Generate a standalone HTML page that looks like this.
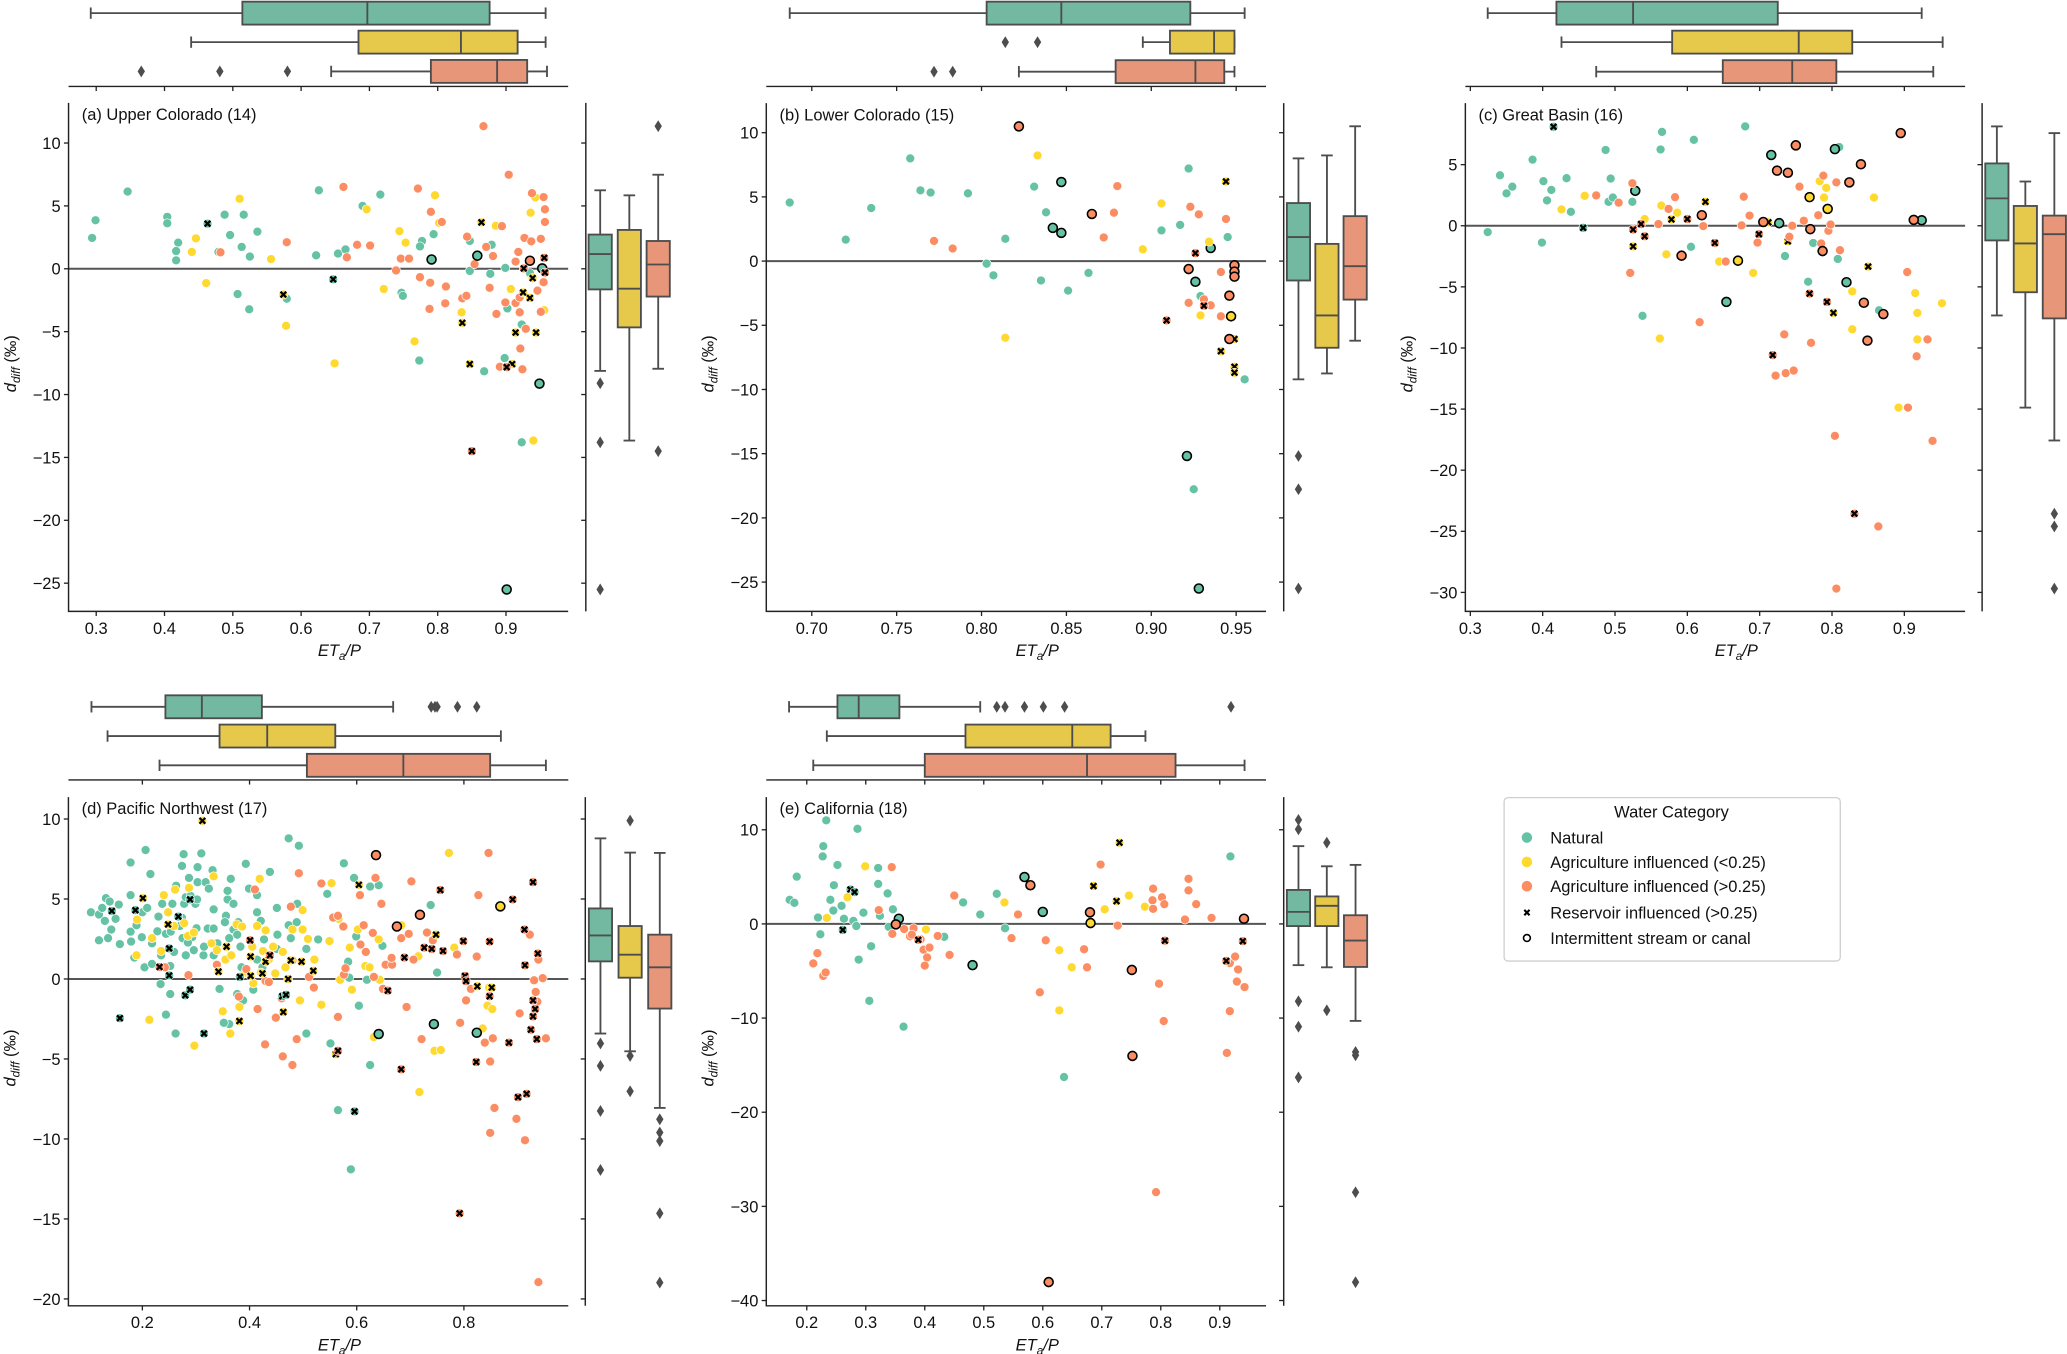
<!DOCTYPE html>
<html><head><meta charset="utf-8">
<style>
html,body{margin:0;padding:0;background:#fff;}
svg{display:block;font-family:"Liberation Sans","DejaVu Sans",sans-serif;}
</style></head>
<body>
<svg id="fig" xmlns="http://www.w3.org/2000/svg" width="2067" height="1354" viewBox="0 0 1568 1027">
<rect x="0" y="0" width="1568" height="1027" fill="#fff"/>
<g id="legend">
  <rect x="1141" y="605" width="255" height="124" rx="3" fill="#fff" stroke="#cfcfcf" stroke-width="1"/>
  <text x="1268" y="620" font-size="12.5" text-anchor="middle" fill="#111">Water Category</text>
  <g><circle cx="1158.3" cy="635.3" r="4" fill="#66c2a5"/><text x="1176" y="639.8" font-size="12.5" fill="#111">Natural</text></g>
  <g><circle cx="1158.3" cy="653.8" r="4" fill="#ffd92f"/><text x="1176" y="658.3" font-size="12.5" fill="#111">Agriculture influenced (&lt;0.25)</text></g>
  <g><circle cx="1158.3" cy="672.2" r="4" fill="#fc8d62"/><text x="1176" y="676.7" font-size="12.5" fill="#111">Agriculture influenced (&gt;0.25)</text></g>
  <g><path d="M1156.3,690.2 L1160.3,694.2 M1160.3,690.2 L1156.3,694.2" stroke="#000" stroke-width="1.6"/><text x="1176" y="696.7" font-size="12.5" fill="#111">Reservoir influenced (&gt;0.25)</text></g>
  <g><circle cx="1158.3" cy="711.5" r="2.6" fill="#fff" stroke="#000" stroke-width="1.2"/><text x="1176" y="716" font-size="12.5" fill="#111">Intermittent stream or canal</text></g>
</g>
</svg>
<script>
// point format: [ETa/P, d_diff, category(0 natural,1 ag<0.25,2 ag>0.25), marker(0 none,1 reservoir,2 intermittent)]
const pointsA = [
[0.294,2.45,0,0],[0.299,3.86,0,0],[0.346,6.14,0,0],[0.404,4.13,0,0],[0.404,3.62,0,0],[0.42,2.08,0,0],[0.417,1.41,0,0],[0.417,0.67,0,0],[0.479,1.34,0,0],[0.488,4.3,0,0],[0.496,2.68,0,0],[0.516,4.3,0,0],[0.513,1.74,0,0],[0.536,2.95,0,0],[0.525,0.97,0,0],[0.507,-2.01,0,0],[0.524,-3.22,0,0],[0.579,-2.38,0,0],[0.626,6.24,0,0],[0.622,1.07,0,0],[0.654,1.21,0,0],[0.665,1.54,0,0],[0.69,5.0,0,0],[0.716,5.9,0,0],[0.777,2.21,0,0],[0.774,1.78,0,0],[0.794,2.75,0,0],[0.747,-1.91,0,0],[0.749,-2.15,0,0],[0.773,-7.3,0,0],[0.847,2.21,0,0],[0.879,1.91,0,0],[0.847,-0.17,0,0],[0.877,-0.4,0,0],[0.868,-8.15,0,0],[0.899,0.07,0,0],[0.902,-3.15,0,0],[0.898,-7.1,0,0],[0.923,-4.43,0,0],[0.923,-13.8,0,0],[0.935,-0.34,0,0],
[0.446,2.42,1,0],[0.44,1.34,1,0],[0.461,-1.14,1,0],[0.51,5.57,1,0],[0.556,0.77,1,0],[0.578,-4.53,1,0],[0.649,-7.52,1,0],[0.696,4.73,1,0],[0.721,-1.61,1,0],[0.744,2.99,1,0],[0.753,2.08,1,0],[0.796,5.84,1,0],[0.802,3.66,1,0],[0.766,-5.77,1,0],[0.835,-3.46,1,0],[0.885,3.42,1,0],[0.907,-1.61,1,0],[0.936,4.46,1,0],[0.943,5.67,1,0],[0.956,-3.29,1,0],[0.94,-13.66,1,0],
[0.482,1.31,2,0],[0.579,2.11,2,0],[0.662,6.51,2,0],[0.667,0.91,2,0],[0.682,1.91,2,0],[0.701,1.85,2,0],[0.739,-0.13,2,0],[0.746,0.81,2,0],[0.758,0.81,2,0],[0.771,6.38,2,0],[0.774,-0.67,2,0],[0.79,4.53,2,0],[0.806,3.72,2,0],[0.789,-1.11,2,0],[0.788,-3.19,2,0],[0.812,-1.41,2,0],[0.811,-2.75,2,0],[0.843,2.55,2,0],[0.854,0.37,2,0],[0.871,1.74,2,0],[0.836,-2.35,2,0],[0.842,-2.15,2,0],[0.867,11.34,2,0],[0.894,3.39,2,0],[0.881,1.01,2,0],[0.876,-1.51,2,0],[0.886,-3.59,2,0],[0.904,7.48,2,0],[0.918,1.34,2,0],[0.927,2.45,2,0],[0.937,2.18,2,0],[0.938,6.01,2,0],[0.955,5.7,2,0],[0.957,4.73,2,0],[0.957,3.72,2,0],[0.951,2.38,2,0],[0.914,0.57,2,0],[0.899,-2.68,2,0],[0.914,-2.72,2,0],[0.92,-3.46,2,0],[0.92,-2.28,2,0],[0.946,-1.74,2,0],[0.955,-1.07,2,0],[0.951,-3.42,2,0],[0.929,-4.77,2,0],[0.921,-6.34,2,0],[0.924,-7.99,2,0],[0.891,-7.79,2,0],
[0.901,-25.5,0,2],[0.949,-9.13,0,2],[0.953,0.03,0,2],[0.791,0.74,0,2],[0.858,1.04,0,2],[0.935,0.64,2,2],
[0.463,3.59,0,1],[0.647,-0.84,0,1],[0.574,-2.05,1,1],[0.847,-7.58,1,1],[0.864,3.69,1,1],[0.914,-5.07,1,1],[0.944,-5.07,1,1],[0.925,-1.88,1,1],[0.935,-2.32,1,1],[0.939,-0.74,1,1],[0.909,-7.58,1,1],[0.836,-4.3,1,1],
[0.85,-14.5,2,1],[0.901,-7.82,2,1],[0.926,0.03,2,1],[0.956,0.87,2,1],[0.957,-0.3,2,1]
];
const pointsB = [
[0.687,4.56,0,0],[0.72,1.67,0,0],[0.735,4.13,0,0],[0.758,8.0,0,0],[0.764,5.51,0,0],[0.77,5.34,0,0],[0.792,5.28,0,0],[0.814,1.74,0,0],[0.803,-0.2,0,0],[0.807,-1.11,0,0],[0.831,5.8,0,0],[0.838,3.8,0,0],[0.835,-1.51,0,0],[0.851,-2.3,0,0],[0.863,-0.92,0,0],[0.906,2.39,0,0],[0.917,2.82,0,0],[0.922,7.21,0,0],[0.945,1.87,0,0],[0.929,-2.72,0,0],[0.955,-9.21,0,0],[0.925,-17.77,0,0],
[0.847,6.16,0,2],[0.842,2.59,0,2],[0.847,2.2,0,2],[0.935,1.02,0,2],[0.926,-1.61,0,2],[0.921,-15.18,0,2],[0.928,-25.5,0,2],
[0.833,8.23,1,0],[0.814,-5.97,1,0],[0.906,4.49,1,0],[0.895,0.92,1,0],[0.934,1.51,1,0],[0.929,-4.23,1,0],
[0.947,-4.3,1,2],[0.944,6.2,1,1],[0.941,-7.02,1,1],[0.949,-6.07,1,1],[0.949,-8.23,1,1],[0.949,-8.69,1,1],
[0.772,1.57,2,0],[0.783,0.98,2,0],[0.872,1.84,2,0],[0.878,3.77,2,0],[0.88,5.84,2,0],[0.923,4.23,2,0],[0.928,3.64,2,0],[0.944,3.28,2,0],[0.941,-0.85,2,0],[0.922,-3.25,2,0],[0.935,-3.44,2,0],[0.941,-4.3,2,0],[0.931,-2.98,2,0],
[0.822,10.49,2,2],[0.865,3.67,2,2],[0.922,-0.62,2,2],[0.946,-2.69,2,2],[0.946,-6.07,2,2],[0.949,-0.33,2,2],[0.949,-0.82,2,2],[0.949,-1.21,2,2],
[0.909,-4.62,2,1],[0.926,0.62,2,1],[0.931,-3.48,2,1]
];
const pointsC = [
[0.324,-0.52,0,0],[0.341,4.13,0,0],[0.35,2.65,0,0],[0.358,3.2,0,0],[0.386,5.41,0,0],[0.401,3.65,0,0],[0.412,2.93,0,0],[0.406,2.07,0,0],[0.399,-1.38,0,0],[0.433,3.89,0,0],[0.439,1.14,0,0],[0.487,6.2,0,0],[0.494,3.86,0,0],[0.491,1.96,0,0],[0.497,2.31,0,0],[0.524,1.96,0,0],[0.565,7.68,0,0],[0.563,6.24,0,0],[0.609,7.03,0,0],[0.68,8.13,0,0],[0.605,-1.72,0,0],[0.538,-7.37,0,0],[0.735,-2.48,0,0],[0.774,-1.41,0,0],[0.767,-4.58,0,0],[0.81,6.44,0,0],[0.808,-2.72,0,0],[0.865,-6.92,0,0],
[0.528,2.86,0,2],[0.727,0.21,0,2],[0.716,5.79,0,2],[0.804,6.27,0,2],[0.82,-4.62,0,2],[0.924,0.45,0,2],[0.654,-6.23,0,2],
[0.415,8.1,0,1],[0.456,-0.17,0,1],
[0.426,1.34,1,0],[0.458,2.45,1,0],[0.541,0.55,1,0],[0.564,1.65,1,0],[0.586,1.07,1,0],[0.571,-2.34,1,0],[0.562,-9.23,1,0],[0.644,-2.93,1,0],[0.691,-3.86,1,0],[0.783,3.65,1,0],[0.792,3.1,1,0],[0.789,2.31,1,0],[0.858,2.31,1,0],[0.828,-5.37,1,0],[0.828,-8.47,1,0],[0.915,-5.51,1,0],[0.918,-7.13,1,0],[0.918,-9.3,1,0],[0.952,-6.34,1,0],[0.892,-14.88,1,0],
[0.769,2.34,1,2],[0.67,-2.86,1,2],[0.794,1.38,1,2],
[0.525,-1.69,1,1],[0.578,0.52,1,1],[0.625,1.96,1,1],[0.712,0.28,1,1],[0.739,-1.27,1,1],[0.802,-7.13,1,1],[0.85,-3.34,1,1],
[0.474,2.48,2,0],[0.505,1.89,2,0],[0.524,3.48,2,0],[0.521,-3.86,2,0],[0.56,0.14,2,0],[0.574,1.38,2,0],[0.583,2.34,2,0],[0.622,-0.03,2,0],[0.653,-2.93,2,0],[0.617,-7.89,2,0],[0.675,0.03,2,0],[0.678,2.38,2,0],[0.686,0.83,2,0],[0.697,-1.38,2,0],[0.734,-8.89,2,0],[0.722,-12.26,2,0],[0.736,-12.06,2,0],[0.747,-11.85,2,0],[0.771,-9.58,2,0],[0.741,-0.9,2,0],[0.745,0,2,0],[0.755,3.2,2,0],[0.761,0.41,2,0],[0.781,0.86,2,0],[0.788,4.1,2,0],[0.785,-1.45,2,0],[0.795,-0.41,2,0],[0.798,0.1,2,0],[0.806,3.55,2,0],[0.811,-2.0,2,0],[0.904,-3.79,2,0],[0.917,-10.68,2,0],[0.932,-9.3,2,0],[0.905,-14.88,2,0],[0.804,-17.19,2,0],[0.939,-17.6,2,0],[0.864,-24.6,2,0],[0.806,-29.69,2,0],
[0.592,-2.45,2,2],[0.62,0.86,2,2],[0.705,0.31,2,2],[0.724,4.51,2,2],[0.739,4.34,2,2],[0.75,6.58,2,2],[0.77,-0.28,2,2],[0.787,-2.07,2,2],[0.824,3.55,2,2],[0.84,5.03,2,2],[0.844,-6.3,2,2],[0.849,-9.4,2,2],[0.871,-7.23,2,2],[0.895,7.58,2,2],[0.913,0.48,2,2],
[0.525,-0.31,2,1],[0.536,0.14,2,1],[0.541,-0.86,2,1],[0.6,0.55,2,1],[0.638,-1.41,2,1],[0.699,-0.69,2,1],[0.718,-10.58,2,1],[0.769,-5.55,2,1],[0.793,-6.23,2,1],[0.831,-23.56,2,1]
];
const pointsD = [
[0.104,4.17,0,0],[0.119,4.03,0,0],[0.125,4.44,0,0],[0.132,5.05,0,0],[0.139,4.84,0,0],[0.13,3.63,0,0],[0.142,3.09,0,0],[0.15,3.76,0,0],[0.156,4.65,0,0],[0.119,2.42,0,0],[0.136,2.55,0,0],[0.158,2.18,0,0],[0.178,2.96,0,0],[0.179,2.34,0,0],[0.178,5.24,0,0],[0.189,3.36,0,0],[0.199,2.61,0,0],[0.2,4.17,0,0],[0.209,4.44,0,0],[0.206,8.06,0,0],[0.178,7.28,0,0],[0.215,6.56,0,0],[0.185,1.34,0,0],[0.204,0.73,0,0],[0.218,0.94,0,0],[0.23,3.9,0,0],[0.237,4.7,0,0],[0.235,1.48,0,0],[0.244,2.82,0,0],[0.253,2.96,0,0],[0.259,1.69,0,0],[0.256,4.7,0,0],[0.263,5.83,0,0],[0.27,3.31,0,0],[0.275,2.55,0,0],[0.278,4.7,0,0],[0.281,5.11,0,0],[0.274,3.82,0,0],[0.277,7.8,0,0],[0.274,7.07,0,0],[0.287,6.32,0,0],[0.29,5.19,0,0],[0.299,4.7,0,0],[0.302,4.97,0,0],[0.301,3.17,0,0],[0.293,2.61,0,0],[0.296,1.8,0,0],[0.285,2.28,0,0],[0.303,6.99,0,0],[0.31,7.85,0,0],[0.303,6.05,0,0],[0.318,6.05,0,0],[0.322,3.15,0,0],[0.314,1.48,0,0],[0.333,3.15,0,0],[0.333,4.35,0,0],[0.331,6.8,0,0],[0.34,2.23,0,0],[0.356,3.95,0,0],[0.359,4.97,0,0],[0.359,5.51,0,0],[0.365,6.26,0,0],[0.354,3.55,0,0],[0.362,2.55,0,0],[0.37,3.09,0,0],[0.379,3.55,0,0],[0.377,2.77,0,0],[0.383,2.02,0,0],[0.366,1.48,0,0],[0.385,0.73,0,0],[0.393,7.2,0,0],[0.399,5.65,0,0],[0.414,5.24,0,0],[0.414,4.17,0,0],[0.421,3.63,0,0],[0.427,2.47,0,0],[0.438,6.69,0,0],[0.451,4.44,0,0],[0.451,1.88,0,0],[0.452,2.77,0,0],[0.473,3.36,0,0],[0.477,2.55,0,0],[0.488,3.55,0,0],[0.473,8.79,0,0],[0.492,8.33,0,0],[0.489,4.7,0,0],[0.506,1.88,0,0],[0.344,-0.62,0,0],[0.362,-2.82,0,0],[0.377,-0.94,0,0],[0.388,-1.34,0,0],[0.407,-0.67,0,0],[0.463,-1.08,0,0],[0.506,-3.41,0,0],[0.528,2.47,0,0],[0.545,5.32,0,0],[0.551,-4.03,0,0],[0.576,7.23,0,0],[0.595,6.32,0,0],[0.599,2.66,0,0],[0.584,1.08,0,0],[0.586,0.08,0,0],[0.604,-1.67,0,0],[0.625,5.78,0,0],[0.641,5.86,0,0],[0.648,2.07,0,0],[0.619,-0.05,0,0],[0.565,-8.2,0,0],[0.589,-11.9,0,0],[0.625,-5.38,0,0],[0.738,4.62,0,0],[0.75,0.4,0,0],[0.788,1.56,0,0],[0.234,-0.32,0,0],[0.252,-0.94,0,0],[0.244,-2.23,0,0],[0.262,-3.41,0,0],[0.352,-2.74,0,0],[0.252,0.81,0,0],[0.218,2.23,0,0],[0.228,2.98,0,0],[0.281,1.48,0,0],[0.324,5.65,0,0],[0.333,1.48,0,0],[0.315,2.02,0,0],[0.37,4.7,0,0],[0.414,1.21,0,0],[0.424,0.73,0,0],
[0.19,3.71,1,0],[0.189,1.48,1,0],[0.213,-2.55,1,0],[0.218,2.55,1,0],[0.235,1.75,1,0],[0.24,5.24,1,0],[0.248,4.17,1,0],[0.259,3.31,1,0],[0.261,5.59,1,0],[0.278,3.49,1,0],[0.285,2.69,1,0],[0.287,5.7,1,0],[0.296,2.9,1,0],[0.297,-4.17,1,0],[0.333,6.42,1,0],[0.339,1.8,1,0],[0.329,2.23,1,0],[0.35,-2.02,1,0],[0.364,-3.41,1,0],[0.355,1.21,1,0],[0.366,1.48,1,0],[0.376,3.41,1,0],[0.381,-1.75,1,0],[0.386,3.28,1,0],[0.392,0.4,1,0],[0.405,2.02,1,0],[0.407,-0.27,1,0],[0.419,6.26,1,0],[0.414,3.31,1,0],[0.421,0.4,1,0],[0.425,1.75,1,0],[0.43,3.04,1,0],[0.436,1.21,1,0],[0.444,2.02,1,0],[0.448,0.35,1,0],[0.462,1.69,1,0],[0.467,0.73,1,0],[0.48,3.09,1,0],[0.494,-1.34,1,0],[0.499,4.3,1,0],[0.499,3.09,1,0],[0.509,2.5,1,0],[0.521,1.21,1,0],[0.534,-1.61,1,0],[0.549,2.37,1,0],[0.553,5.99,1,0],[0.566,3.76,1,0],[0.569,-0.05,1,0],[0.587,1.96,1,0],[0.591,-0.67,1,0],[0.602,3.09,1,0],[0.616,0.81,1,0],[0.624,0.73,1,0],[0.632,-3.63,1,0],[0.641,2.47,1,0],[0.643,-0.05,1,0],[0.683,3.36,1,0],[0.715,1.42,1,0],[0.717,-7.07,1,0],[0.745,-4.49,1,0],[0.757,-4.44,1,0],[0.772,7.88,1,0],[0.782,1.96,1,0],[0.835,-3.09,1,0],[0.844,-1.67,1,0],[0.853,-1.88,1,0],[0.847,-0.54,1,0],
[0.242,0.73,2,0],[0.286,0.24,2,0],[0.339,0.89,2,0],[0.38,-1.1,2,0],[0.394,0.62,2,0],[0.41,5.59,2,0],[0.415,-1.88,2,0],[0.43,-0.13,2,0],[0.436,-0.19,2,0],[0.429,-4.09,2,0],[0.449,-2.42,2,0],[0.462,-4.84,2,0],[0.46,-1.21,2,0],[0.477,4.52,2,0],[0.48,1.16,2,0],[0.488,-3.76,2,0],[0.48,-5.38,2,0],[0.492,6.61,2,0],[0.511,0.13,2,0],[0.52,-0.54,2,0],[0.534,5.97,2,0],[0.556,3.84,2,0],[0.565,3.95,2,0],[0.565,-2.37,2,0],[0.575,3.28,2,0],[0.576,0.27,2,0],[0.579,0.67,2,0],[0.606,5.24,2,0],[0.607,2.15,2,0],[0.613,3.36,2,0],[0.617,1.69,2,0],[0.632,0.13,2,0],[0.63,2.88,2,0],[0.635,6.32,2,0],[0.646,4.7,2,0],[0.649,-0.62,2,0],[0.654,0.89,2,0],[0.666,0.89,2,0],[0.665,1.32,2,0],[0.683,2.55,2,0],[0.693,-1.75,2,0],[0.697,2.82,2,0],[0.702,6.1,2,0],[0.706,1.21,2,0],[0.721,-3.76,2,0],[0.731,2.9,2,0],[0.742,2.42,2,0],[0.787,1.53,2,0],[0.793,-2.74,2,0],[0.804,-1.34,2,0],[0.813,-0.62,2,0],[0.824,1.4,2,0],[0.827,5.24,2,0],[0.839,-3.98,2,0],[0.846,7.88,2,0],[0.854,-3.71,2,0],[0.849,-5.16,2,0],[0.857,-8.06,2,0],[0.849,-9.62,2,0],[0.898,-8.74,2,0],[0.904,-2.15,2,0],[0.914,-10.08,2,0],[0.923,2.77,2,0],[0.931,-0.08,2,0],[0.934,-0.81,2,0],[0.939,1.21,2,0],[0.947,0.05,2,0],[0.953,-3.71,2,0],[0.939,-18.95,2,0],[0.937,-1.42,2,0],
[0.636,7.74,2,2],[0.675,3.28,2,2],[0.718,4.01,2,2],[0.868,4.54,1,2],[0.744,-2.82,0,2],[0.824,-3.36,0,2],[0.641,-3.44,0,2],
[0.201,5.05,1,1],[0.312,9.89,1,1],[0.357,2.02,1,1],[0.424,0.35,1,1],[0.43,1.08,1,1],[0.436,1.48,1,1],[0.463,-2.07,1,1],[0.477,1.16,1,1],[0.519,0.51,1,1],[0.381,-2.63,1,1],[0.604,5.89,1,1],[0.561,-4.7,1,1],[0.748,2.77,1,1],[0.825,-0.46,1,1],[0.852,-0.54,1,1],
[0.232,0.75,2,1],[0.143,4.25,0,1],[0.187,4.3,0,1],[0.248,3.41,1,1],[0.25,1.91,0,1],[0.25,0.22,0,1],[0.267,3.9,0,1],[0.289,4.97,0,1],[0.28,-1.02,0,1],[0.289,-0.67,0,1],[0.158,-2.45,0,1],[0.315,-3.41,0,1],[0.342,0.46,1,1],[0.382,0.13,0,1],[0.401,2.42,2,1],[0.402,1.4,1,1],[0.402,0.19,1,1],[0.438,1.48,2,1],[0.472,0,1,1],[0.461,-1.08,0,1],[0.468,-0.99,0,1],[0.497,1.08,1,1],[0.565,-4.49,2,1],[0.596,-8.28,0,1],[0.658,-0.73,2,1],[0.683,-5.65,2,1],[0.689,1.34,2,1],[0.726,1.96,2,1],[0.74,1.88,2,1],[0.756,5.56,2,1],[0.761,1.75,2,1],[0.799,2.37,2,1],[0.802,0.19,2,1],[0.804,-0.13,2,1],[0.823,-5.19,2,1],[0.848,2.34,2,1],[0.848,-1.08,2,1],[0.891,4.97,2,1],[0.884,-3.98,2,1],[0.901,-7.39,2,1],[0.917,-7.18,2,1],[0.913,3.09,2,1],[0.914,0.86,2,1],[0.929,6.05,2,1],[0.938,1.59,2,1],[0.929,-1.34,2,1],[0.933,-1.88,2,1],[0.929,-2.34,2,1],[0.925,-3.17,2,1],[0.936,-3.76,2,1],[0.792,-14.65,2,1]
];
const pointsE = [
[0.171,2.56,0,0],[0.179,2.24,0,0],[0.183,5.02,0,0],[0.219,0.68,0,0],[0.223,-1.1,0,0],[0.227,7.17,0,0],[0.228,8.26,0,0],[0.233,11.0,0,0],[0.24,2.56,0,0],[0.245,1.42,0,0],[0.246,4.11,0,0],[0.252,6.26,0,0],[0.259,1.92,0,0],[0.263,0.55,0,0],[0.279,0.32,0,0],[0.284,-0.23,0,0],[0.286,10.1,0,0],[0.288,-3.79,0,0],[0.296,1.19,0,0],[0.306,-8.17,0,0],[0.309,-2.37,0,0],[0.321,5.94,0,0],[0.321,4.25,0,0],[0.324,0.87,0,0],[0.337,3.24,0,0],[0.339,-0.32,0,0],[0.346,1.55,0,0],[0.364,-10.91,0,0],[0.433,-1.37,0,0],[0.465,2.28,0,0],[0.494,1.0,0,0],[0.522,3.2,0,0],[0.536,-0.46,0,0],[0.636,-16.26,0,0],[0.918,7.17,0,0],
[0.356,0.55,0,2],[0.481,-4.38,0,2],[0.569,4.98,0,2],[0.6,1.28,0,2],
[0.261,-0.64,0,1],[0.274,3.65,0,1],[0.281,3.38,0,1],
[0.234,0.64,1,0],[0.269,2.83,1,0],[0.299,6.12,1,0],[0.402,-0.59,1,0],[0.535,2.28,1,0],[0.628,-2.79,1,0],[0.628,-9.18,1,0],[0.649,-4.61,1,0],[0.705,1.55,1,0],[0.746,3.01,1,0],[0.773,1.83,1,0],
[0.681,0.09,1,2],[0.73,8.63,1,1],[0.686,4.02,1,1],[0.725,2.42,1,1],
[0.211,-4.2,2,0],[0.218,-3.11,2,0],[0.228,-5.53,2,0],[0.232,-5.16,2,0],[0.322,1.46,2,0],[0.344,6.03,2,0],[0.345,-1.05,2,0],[0.365,-0.55,2,0],[0.375,-1.32,2,0],[0.381,-0.46,2,0],[0.378,-1.14,2,0],[0.393,-1.64,2,0],[0.398,-2.74,2,0],[0.408,-2.51,2,0],[0.404,-3.56,2,0],[0.4,-4.43,2,0],[0.422,-1.28,2,0],[0.442,-3.29,2,0],[0.45,3.01,2,0],[0.547,-1.51,2,0],[0.558,1.0,2,0],[0.595,-7.26,2,0],[0.605,-1.74,2,0],[0.67,-2.69,2,0],[0.675,-4.61,2,0],[0.698,6.3,2,0],[0.727,-0.18,2,0],[0.787,3.74,2,0],[0.786,2.51,2,0],[0.787,1.6,2,0],[0.802,2.83,2,0],[0.806,2.1,2,0],[0.797,-6.35,2,0],[0.805,-10.32,2,0],[0.792,-28.49,2,0],[0.841,0.46,2,0],[0.847,4.79,2,0],[0.847,3.56,2,0],[0.86,2.1,2,0],[0.886,0.64,2,0],[0.917,-4.16,2,0],[0.926,-3.47,2,0],[0.931,-4.84,2,0],[0.929,-6.12,2,0],[0.942,-6.71,2,0],[0.917,-9.27,2,0],[0.912,-13.7,2,0],
[0.579,4.11,2,2],[0.68,1.23,2,2],[0.751,-4.89,2,2],[0.752,-14.02,2,2],[0.61,-38.04,2,2],[0.941,0.55,2,2],[0.351,-0.05,2,2],
[0.389,-1.69,2,1],[0.807,-1.78,2,1],[0.939,-1.83,2,1],[0.911,-3.93,2,1]
];
// Box stats: [whisker-low, q1, median, q3, whisker-high], order natural, ag<0.25, ag>0.25
const topBoxA = [[0.292,0.514,0.697,0.876,0.958],[0.439,0.684,0.834,0.917,0.958],[0.644,0.790,0.887,0.931,0.960]];
const topOutA = [[],[],[0.366,0.481,0.580]];
const rightBoxA = [[-8.12,-1.64,1.17,2.72,6.24],[-13.66,-4.66,-1.58,3.09,5.84],[-7.95,-2.21,0.34,2.21,7.48]];
const rightOutA = [[-9.1,-13.8,-25.5],[],[11.34,-14.5]];
const topBoxB = [[0.687,0.803,0.847,0.923,0.955],[0.895,0.911,0.937,0.949,0.949],[0.822,0.879,0.926,0.943,0.949]];
const topOutB = [[],[0.814,0.833],[0.772,0.783]];
const rightBoxB = [[-9.21,-1.51,1.87,4.52,8.0],[-8.75,-6.75,-4.23,1.34,8.23],[-6.2,-3.0,-0.4,3.5,10.5]];
const rightOutB = [[-15.18,-17.77,-25.5],[],[]];
const topBoxC = [[0.324,0.419,0.525,0.725,0.924],[0.426,0.579,0.754,0.828,0.953],[0.474,0.649,0.745,0.806,0.94]];
const topOutC = [[],[],[]];
const rightBoxC = [[-7.34,-1.2,2.24,5.1,8.13],[-14.88,-5.44,-1.45,1.62,3.62],[-17.57,-7.58,-0.69,0.83,7.58]];
const rightOutC = [[],[],[-23.56,-24.6,-29.69]];
const topBoxD = [[0.105,0.243,0.311,0.423,0.668],[0.135,0.344,0.433,0.56,0.869],[0.232,0.507,0.687,0.849,0.953]];
const topOutD = [[0.739,0.746,0.75,0.788,0.824],[],[]];
const rightBoxD = [[-3.41,1.1,2.72,4.41,8.79],[-4.52,0.08,1.52,3.31,7.9],[-8.06,-1.85,0.73,2.77,7.88]];
const rightOutD = [[-4.03,-5.43,-8.25,-11.94],[9.9,-4.81,-7.02],[-8.77,-9.6,-10.13,-14.65,-18.98]];
const topBoxE = [[0.17,0.252,0.288,0.357,0.494],[0.234,0.469,0.65,0.715,0.774],[0.211,0.4,0.675,0.825,0.942]];
const topOutE = [[0.522,0.536,0.569,0.601,0.637,0.919],[],[]];
const rightBoxE = [[-4.38,-0.23,1.28,3.61,8.26],[-4.61,-0.23,1.92,2.92,6.12],[-10.3,-4.57,-1.77,0.92,6.27]];
const rightOutE = [[11.05,10.05,-8.22,-10.91,-16.3],[8.63,-9.18],[-13.6,-13.95,-28.5,-38.05]];
const xTicksA = [0.3,0.4,0.5,0.6,0.7,0.8,0.9];
const xTicksB = [0.70,0.75,0.80,0.85,0.90,0.95];
const xTicksC = [0.3,0.4,0.5,0.6,0.7,0.8,0.9];
const xTicksD = [0.2,0.4,0.6,0.8];
const xTicksE = [0.2,0.3,0.4,0.5,0.6,0.7,0.8,0.9];
const yTicksA = [10,5,0,-5,-10,-15,-20,-25];
const yTicksB = [10,5,0,-5,-10,-15,-20,-25];
const yTicksC = [5,0,-5,-10,-15,-20,-25,-30];
const yTicksD = [10,5,0,-5,-10,-15,-20];
const yTicksE = [10,0,-10,-20,-30,-40];

const NS = "http://www.w3.org/2000/svg";
const svg = document.getElementById('fig');
const DOT = ['#66c2a5','#ffd92f','#fc8d62'];
const BOX = ['#73b9a2','#e6c84b','#e8967a'];
const EDGE = '#4d4d4d';
function el(tag, attrs, parent){
  const e = document.createElementNS(NS, tag);
  for (const k in attrs) e.setAttribute(k, attrs[k]);
  (parent||svg).appendChild(e);
  return e;
}
function fmtY(v){ return v < 0 ? '\u2212' + Math.abs(v) : String(v); }

const panels = [
 {id:'a', title:'(a) Upper Colorado (14)', px:[52,431], py:[78,463.7], xlim:[0.2595,0.991], ylim:[-27.24,13.19], xt:xTicksA, xd:1, yt:yTicksA, pts:pointsA, tb:topBoxA, to:topOutA, rb:rightBoxA, ro:rightOutA, topLine:65.5, rows:[9.9,31.9,54.1], rSpine:444.4, cols:[455.3,477.4,499.3]},
 {id:'b', title:'(b) Lower Colorado (15)', px:[581.3,960.4], py:[78.2,463.7], xlim:[0.6732,0.9676], ylim:[-27.28,12.3], xt:xTicksB, xd:2, yt:yTicksB, pts:pointsB, tb:topBoxB, to:topOutB, rb:rightBoxB, ro:rightOutB, topLine:65.5, rows:[9.9,31.9,54.3], rSpine:973.8, cols:[985,1006.6,1028]},
 {id:'c', title:'(c) Great Basin (16)', px:[1111.6,1490.7], py:[78.2,463.7], xlim:[0.2931,0.984], ylim:[-31.55,10.03], xt:xTicksC, xd:1, yt:yTicksC, pts:pointsC, tb:topBoxC, to:topOutC, rb:rightBoxC, ro:rightOutC, topLine:65.5, rows:[9.9,31.9,54.3], rSpine:1503.6, cols:[1514.8,1536.4,1558.4]},
 {id:'d', title:'(d) Pacific Northwest (17)', px:[51.9,431.1], py:[604.6,990.5], xlim:[0.062,0.9948], ylim:[-20.43,11.37], xt:xTicksD, xd:1, yt:yTicksD, pts:pointsD, tb:topBoxD, to:topOutD, rb:rightBoxD, ro:rightOutD, topLine:591.6, rows:[536.1,558.3,580.5], rSpine:444, cols:[455.5,478,500.5]},
 {id:'e', title:'(e) California (18)', px:[581.3,960.4], py:[604.6,990.5], xlim:[0.1314,0.9784], ylim:[-40.56,13.47], xt:xTicksE, xd:1, yt:yTicksE, pts:pointsE, tb:topBoxE, to:topOutE, rb:rightBoxE, ro:rightOutE, topLine:591.6, rows:[536.1,558.3,580.5], rSpine:973.8, cols:[985,1006.5,1028.3]}
];

function diamond(g, cx, cy){
  const d = el('path', {d:`M${cx},${cy-4.5} L${cx+2.8},${cy} L${cx},${cy+4.5} L${cx-2.8},${cy} Z`, fill:EDGE}, g);
  
  
}

panels.forEach(p => {
  const g = el('g', {});
  
  
  const X = v => p.px[0] + (v - p.xlim[0]) / (p.xlim[1] - p.xlim[0]) * (p.px[1] - p.px[0]);
  const Y = v => p.py[1] - (v - p.ylim[0]) / (p.ylim[1] - p.ylim[0]) * (p.py[1] - p.py[0]);

  // zero line
  const z = el('line', {x1:p.px[0], x2:p.px[1], y1:Y(0), y2:Y(0), stroke:'#555', 'stroke-width':1.5}, g);
  
  

  // axes
  const ax = el('path', {d:`M${p.px[0]},${p.py[0]} L${p.px[0]},${p.py[1]} L${p.px[1]},${p.py[1]}`, fill:'none', stroke:'#222', 'stroke-width':1.1}, g);
  
  
  p.xt.forEach(t => {
    const x = X(t);
    el('line', {x1:x, x2:x, y1:p.py[1], y2:p.py[1]+3.5, stroke:'#222', 'stroke-width':1}, g);
    const lb = el('text', {x:x, y:p.py[1]+17, 'font-size':12.5, 'text-anchor':'middle', fill:'#111'}, g);
    lb.textContent = t.toFixed(p.xd);
    
    
    el('line', {x1:x, x2:x, y1:p.topLine, y2:p.topLine+3.5, stroke:'#222', 'stroke-width':1}, g);
  });
  p.yt.forEach(t => {
    const y = Y(t);
    el('line', {x1:p.px[0]-3.5, x2:p.px[0], y1:y, y2:y, stroke:'#222', 'stroke-width':1}, g);
    const lb = el('text', {x:p.px[0]-6, y:y+4.5, 'font-size':12.5, 'text-anchor':'end', fill:'#111'}, g);
    lb.textContent = fmtY(t);
    
    
    el('line', {x1:p.rSpine-3.5, x2:p.rSpine, y1:y, y2:y, stroke:'#222', 'stroke-width':1}, g);
  });
  // top margin axis line and right margin spine
  el('line', {x1:p.px[0], x2:p.px[1], y1:p.topLine, y2:p.topLine, stroke:'#222', 'stroke-width':1.1}, g);
  el('line', {x1:p.rSpine, x2:p.rSpine, y1:p.py[0], y2:p.py[1], stroke:'#222', 'stroke-width':1.1}, g);

  // title
  const tt = el('text', {x:p.px[0]+10, y:p.py[0]+13, 'font-size':12.5, fill:'#111'}, g);
  tt.textContent = p.title;
  
  

  // axis labels
  const cx = (p.px[0]+p.px[1])/2 + 16;
  const xl = el('text', {x:cx, y:p.py[1]+34, 'font-size':12.5, 'text-anchor':'middle', fill:'#111', 'font-style':'italic'}, g);
  xl.innerHTML = 'ET<tspan font-size="9" dy="3">a</tspan><tspan dy="-3">/P</tspan>';
  
  
  const lx = p.px[0] - 40, ly = (p.py[0]+p.py[1])/2 + 5;
  const yl = el('text', {x:lx, y:ly, 'font-size':12.5, 'text-anchor':'middle', fill:'#111', transform:`rotate(-90 ${lx} ${ly})`}, g);
  yl.innerHTML = '<tspan font-style="italic">d</tspan><tspan font-style="italic" font-size="9" dy="3">diff</tspan><tspan dy="-3"> (‰)</tspan>';
  
  

  // top boxplots (horizontal)
  p.tb.forEach((b, i) => {
    const bg = el('g', {}, g);
    
    
    const cy = p.rows[i], h = 8.7;
    el('line', {x1:X(b[0]), x2:X(b[1]), y1:cy, y2:cy, stroke:EDGE, 'stroke-width':1.4}, bg);
    el('line', {x1:X(b[3]), x2:X(b[4]), y1:cy, y2:cy, stroke:EDGE, 'stroke-width':1.4}, bg);
    el('line', {x1:X(b[0]), x2:X(b[0]), y1:cy-4.3, y2:cy+4.3, stroke:EDGE, 'stroke-width':1.4}, bg);
    el('line', {x1:X(b[4]), x2:X(b[4]), y1:cy-4.3, y2:cy+4.3, stroke:EDGE, 'stroke-width':1.4}, bg);
    el('rect', {x:X(b[1]), y:cy-h, width:Math.max(0.5, X(b[3])-X(b[1])), height:2*h, fill:BOX[i], stroke:EDGE, 'stroke-width':1.4}, bg);
    el('line', {x1:X(b[2]), x2:X(b[2]), y1:cy-h, y2:cy+h, stroke:EDGE, 'stroke-width':1.4}, bg);
    p.to[i].forEach(o => diamond(bg, X(o), cy));
  });
  // right boxplots (vertical)
  p.rb.forEach((b, i) => {
    const bg = el('g', {}, g);
    
    
    const cx2 = p.cols[i], w = 8.8;
    el('line', {x1:cx2, x2:cx2, y1:Y(b[0]), y2:Y(b[1]), stroke:EDGE, 'stroke-width':1.4}, bg);
    el('line', {x1:cx2, x2:cx2, y1:Y(b[3]), y2:Y(b[4]), stroke:EDGE, 'stroke-width':1.4}, bg);
    el('line', {x1:cx2-4.4, x2:cx2+4.4, y1:Y(b[0]), y2:Y(b[0]), stroke:EDGE, 'stroke-width':1.4}, bg);
    el('line', {x1:cx2-4.4, x2:cx2+4.4, y1:Y(b[4]), y2:Y(b[4]), stroke:EDGE, 'stroke-width':1.4}, bg);
    el('rect', {x:cx2-w, y:Y(b[3]), width:2*w, height:Y(b[1])-Y(b[3]), fill:BOX[i], stroke:EDGE, 'stroke-width':1.4}, bg);
    el('line', {x1:cx2-w, x2:cx2+w, y1:Y(b[2]), y2:Y(b[2]), stroke:EDGE, 'stroke-width':1.4}, bg);
    p.ro[i].forEach(o => diamond(bg, cx2, Y(o)));
  });

  // scatter points
  const sg = el('g', {}, g);
  
  
  p.pts.forEach(pt => {
    const x = X(pt[0]), y = Y(pt[1]);
    const c = el('circle', {cx:x, cy:y, r:3.4, fill:DOT[pt[2]], stroke: pt[3]===2 ? '#000' : '#fff', 'stroke-width': pt[3]===2 ? 1.2 : 0.5}, sg);
    
    
    if (pt[3] === 1) {
      const m = el('path', {d:`M${x-2.2},${y-2.2} L${x+2.2},${y+2.2} M${x+2.2},${y-2.2} L${x-2.2},${y+2.2}`, stroke:'#000', 'stroke-width':1.7}, sg);
      
      
    }
  });
});
// keep legend on top
svg.appendChild(document.getElementById('legend'));
</script>
</body></html>
